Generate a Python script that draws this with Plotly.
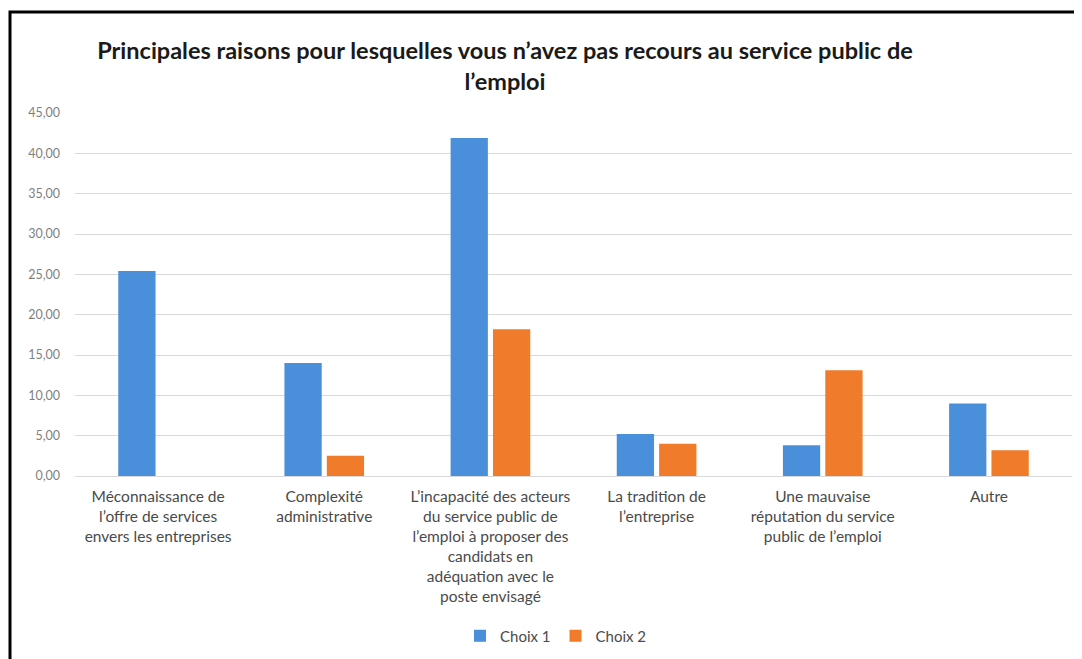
import plotly.graph_objects as go

categories = [
    "Méconnaissance de<br>l’offre de services<br>envers les entreprises",
    "Complexité<br>administrative",
    "L’incapacité des acteurs<br>du service public de<br>l’emploi à proposer des<br>candidats en<br>adéquation avec le<br>poste envisagé",
    "La tradition de<br>l’entreprise",
    "Une mauvaise<br>réputation du service<br>public de l’emploi",
    "Autre",
]
choix1 = [25.4, 14.0, 41.9, 5.2, 3.8, 9.0]
choix2 = [0.0, 2.5, 18.2, 4.0, 13.1, 3.2]
series_names = ["Choix 1", "Choix 2"]
colors = ["#4A8FD9", "#F07B2A"]

OFF = 8  # page body margin offset
W, H = 1082, 659
ml = 75 - OFF
mt = 113 - OFF
mb = H - (476 - OFF)
mr = W - (1072 - OFF)
pw = W - ml - mr
ph = H - mt - mb

fig = go.Figure()
for name, vals, col in zip(series_names, [choix1, choix2], colors):
    fig.add_trace(go.Bar(x=categories, y=vals, name=name, marker_color=col,
                         marker_line_width=0))

def px_x(p):
    return (p - OFF - ml) / pw

def px_y(p):
    return (H - mb - (p - OFF)) / ph

fig.update_layout(
    width=W, height=H,
    margin=dict(l=ml, r=mr, t=mt, b=mb),
    paper_bgcolor="white", plot_bgcolor="white",
    separators=", ",
    barmode="group", bargap=0.49, bargroupgap=0.12,
    font=dict(family="Lato, Open Sans, sans-serif", color="#595959"),
    title=dict(
        text="<b>Principales raisons pour lesquelles vous n’avez pas recours au service public de<br>l’emploi</b>",
        x=(505 - OFF) / W, xanchor="center", y=1 - (59 - OFF) / H, yanchor="middle",
        font=dict(size=23.5, color="#1a1a1a", family="Lato, Open Sans, sans-serif"),
    ),
    xaxis=dict(tickfont=dict(size=15.5, color="#4a4a4a"), showline=True,
               linecolor="#d9d9d9", ticks="", ticklabelstandoff=6),
    yaxis=dict(range=[0, 45], dtick=5, tickformat=".2f", gridcolor="#d9d9d9",
               tickfont=dict(size=12.5, color="#7f7f7f"), zeroline=False,
               ticks="", ticklabelstandoff=14),
    legend=dict(orientation="h", x=px_x(556), xanchor="center",
                y=px_y(636), yanchor="middle", itemwidth=30,
                font=dict(size=15, color="#4a4a4a"), traceorder="normal"),
    shapes=[dict(type="rect", xref="paper", yref="paper",
                 x0=px_x(10), x1=px_x(1095), y0=px_y(672), y1=px_y(12),
                 line=dict(color="black", width=3), fillcolor="rgba(0,0,0,0)")],
)

fig.write_html("out.html")
